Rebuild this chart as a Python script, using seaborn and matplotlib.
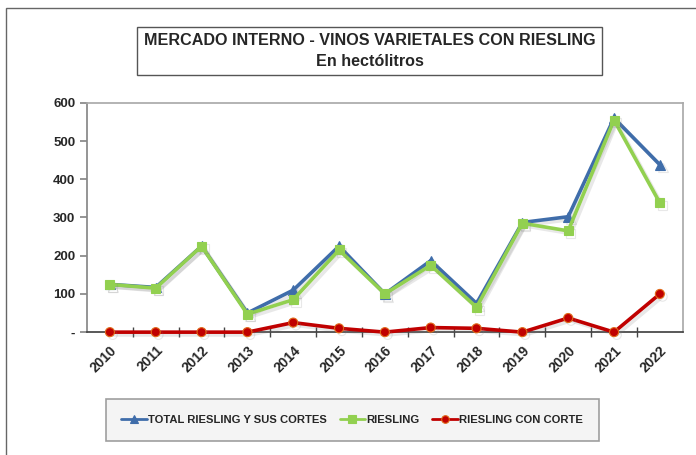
"""Mercado interno - vinos varietales con Riesling (hectolitros)."""

import matplotlib

matplotlib.use("Agg")

import matplotlib.patheffects as pe
import matplotlib.pyplot as plt
import pandas as pd
import seaborn as sns
from matplotlib.patches import Rectangle

years = ["2010", "2011", "2012", "2013", "2014", "2015", "2016",
         "2017", "2018", "2019", "2020", "2021", "2022"]
total_riesling = [125, 117, 225, 50, 110, 225, 100, 187, 75, 287, 302, 560, 438]
riesling = [125, 115, 225, 47, 85, 215, 100, 175, 65, 285, 265, 555, 338]
riesling_con_corte = [0, 0, 0, 0, 25, 10, 0, 12, 10, 0, 37, 0, 100]

series_names = ["TOTAL RIESLING Y SUS CORTES", "RIESLING", "RIESLING CON CORTE"]
y_ticks = [0, 100, 200, 300, 400, 500, 600]
y_tick_labels = ["-", "100", "200", "300", "400", "500", "600"]

frame = pd.DataFrame({"year": years,
                      series_names[0]: total_riesling,
                      series_names[1]: riesling,
                      series_names[2]: riesling_con_corte})
frame["x"] = range(len(years))

sns.set_theme(style="white")
plt.rcParams["font.family"] = ["Liberation Sans", "DejaVu Sans"]

figure = plt.figure(figsize=(6.96, 4.55), dpi=100)
axis = figure.add_axes([0.125, 0.270, 0.856, 0.504])

shadow = [pe.SimpleLineShadow(offset=(2, -2), alpha=0.18, shadow_color="gray"), pe.Normal()]
styles = [
    (series_names[0], "#3F6DAA", "^", "#3F6DAA", 7),
    (series_names[1], "#92D050", "s", "#92D050", 6.5),
    (series_names[2], "#C00000", "o", "#E06A1A", 6.5),
]
for name, color, marker, edge, size in styles:
    sns.lineplot(data=frame, x="x", y=name, ax=axis, color=color, linewidth=2.6,
                 marker=marker, markersize=size, markerfacecolor=color,
                 markeredgecolor=edge, markeredgewidth=0.8, label=name,
                 path_effects=shadow, clip_on=False, zorder=3)

axis.set_xlim(-0.5, len(years) - 0.5)
axis.set_ylim(0, 600)
axis.set_yticks(y_ticks, y_tick_labels)
axis.set_xticks(frame["x"], years, rotation=45, ha="right", rotation_mode="anchor")
axis.set_xticks([i + 0.5 for i in range(len(years) - 1)], minor=True)
axis.tick_params(axis="x", which="major", length=0, bottom=True, pad=8)
axis.tick_params(axis="x", which="minor", direction="inout", length=7, color="#444444",
                 bottom=True)
axis.tick_params(axis="y", length=5, direction="out", color="#888888", left=True)
for label in axis.get_xticklabels():
    label.set_fontweight("bold")
    label.set_fontsize(10)
for label in axis.get_yticklabels():
    label.set_fontweight("bold")
    label.set_fontsize(9.5)
axis.set_xlabel("")
axis.set_ylabel("")
for side in ["top", "right"]:
    axis.spines[side].set_color("#AAAAAA")
axis.spines["left"].set_color("#888888")
axis.spines["bottom"].set_color("#444444")
axis.grid(False)

legend = axis.legend(loc="center", bbox_to_anchor=(0.506, 0.077), bbox_transform=figure.transFigure,
                     ncols=3, frameon=True, fancybox=False, handlelength=2.3,
                     columnspacing=1.1, handletextpad=0.1, borderpad=1.4,
                     prop={"weight": "bold", "size": 8.1})
legend.get_frame().set_facecolor("#F2F2F2")
legend.get_frame().set_edgecolor("#888888")
legend.get_frame().set_linewidth(1.2)
for handle in legend.legend_handles:
    handle.set_path_effects([])
    handle.set_linewidth(2)
    handle.set_markersize(5.5)

figure.text(0.531, 0.888, "MERCADO INTERNO - VINOS VARIETALES CON RIESLING\nEn hectólitros",
            ha="center", va="center", fontsize=11.6, fontweight="bold", linespacing=1.45,
            bbox=dict(boxstyle="square,pad=0.4", facecolor="white", edgecolor="#555555",
                      linewidth=1))

figure.patches.append(Rectangle((0.008, -0.05), 1.2, 1.032, transform=figure.transFigure,
                                fill=False, edgecolor="#666666", linewidth=1))

figure.savefig("out.png", dpi=100)
plt.close(figure)
